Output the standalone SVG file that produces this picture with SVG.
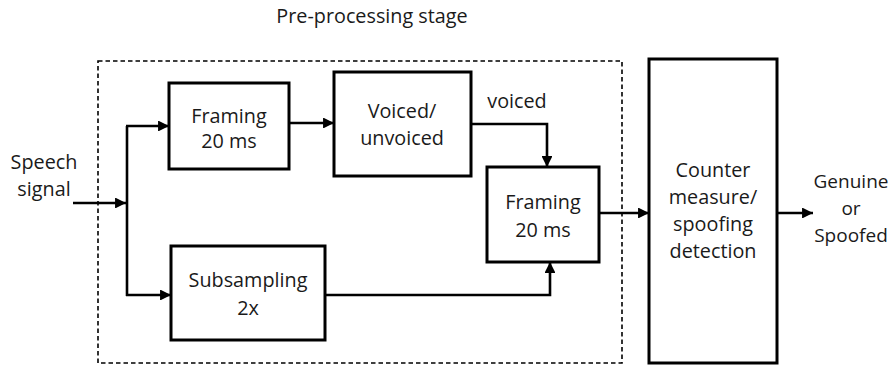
<svg xmlns="http://www.w3.org/2000/svg" width="893" height="366" viewBox="0 0 893 366">
<defs>
<marker id="ah" viewBox="0 0 10 10" refX="10" refY="5" markerWidth="4.6" markerHeight="4.2" markerUnits="strokeWidth" orient="auto">
<path d="M0,0 L10,5 L0,10 Z" fill="#000"/>
</marker>
<style>
.box{fill:#fff;stroke:#000;stroke-width:3}
.t{font-family:"Open Sans","Noto Sans",sans-serif;font-size:19.8px;fill:#1a1a1a;text-anchor:middle}
.o{font-size:19px}
.c{fill:none;stroke:#000;stroke-width:2.6;marker-end:url(#ah)}
.l{fill:none;stroke:#000;stroke-width:2.6}
</style>
</defs>
<rect width="893" height="366" fill="#fff"/>
<text class="t" x="372" y="23">Pre-processing stage</text>
<rect id="stage" x="98" y="61" width="524" height="302" fill="none" stroke="#000" stroke-width="1.6" stroke-dasharray="4.5,3"/>
<g id="speech"><text class="t" x="44" y="169">Speech</text><text class="t" x="44" y="196">signal</text></g>
<g id="framing1"><rect class="box" x="169" y="83" width="120" height="86"/><text class="t" x="229" y="123">Framing</text><text class="t" x="229" y="148">20 ms</text></g>
<g id="voiced"><rect class="box" x="334" y="72" width="137" height="104"/><text class="t" x="402" y="118">Voiced/</text><text class="t" x="402" y="145">unvoiced</text></g>
<g id="framing2"><rect class="box" x="487" y="167" width="112" height="95"/><text class="t" x="543" y="209">Framing</text><text class="t" x="543" y="237">20 ms</text></g>
<g id="subsampling"><rect class="box" x="171" y="246" width="154" height="94"/><text class="t" x="248" y="287">Subsampling</text><text class="t" x="248" y="315">2x</text></g>
<g id="counter"><rect class="box" x="649" y="59" width="128" height="304"/><text class="t" x="713" y="177">Counter</text><text class="t" x="713" y="204">measure/</text><text class="t" x="713" y="231">spoofing</text><text class="t" x="713" y="258">detection</text></g>
<g id="output"><text class="t o" x="851" y="188">Genuine</text><text class="t o" x="851" y="215">or</text><text class="t o" x="851" y="242">Spoofed</text></g>
<g id="connectors">
<path class="c" d="M73,203 H126"/>
<path class="l" d="M127,126 V296"/>
<path class="c" d="M126,126 H169"/>
<path class="c" d="M126,295 H171"/>
<path class="c" d="M289,123 H334"/>
<path class="c" d="M471,124 H547 V167"/>
<text class="t" x="517" y="108">voiced</text>
<path class="c" d="M325,295 H550 V262"/>
<path class="c" d="M599,213 H649"/>
<path class="c" d="M777,213 H813"/>
</g>
</svg>
